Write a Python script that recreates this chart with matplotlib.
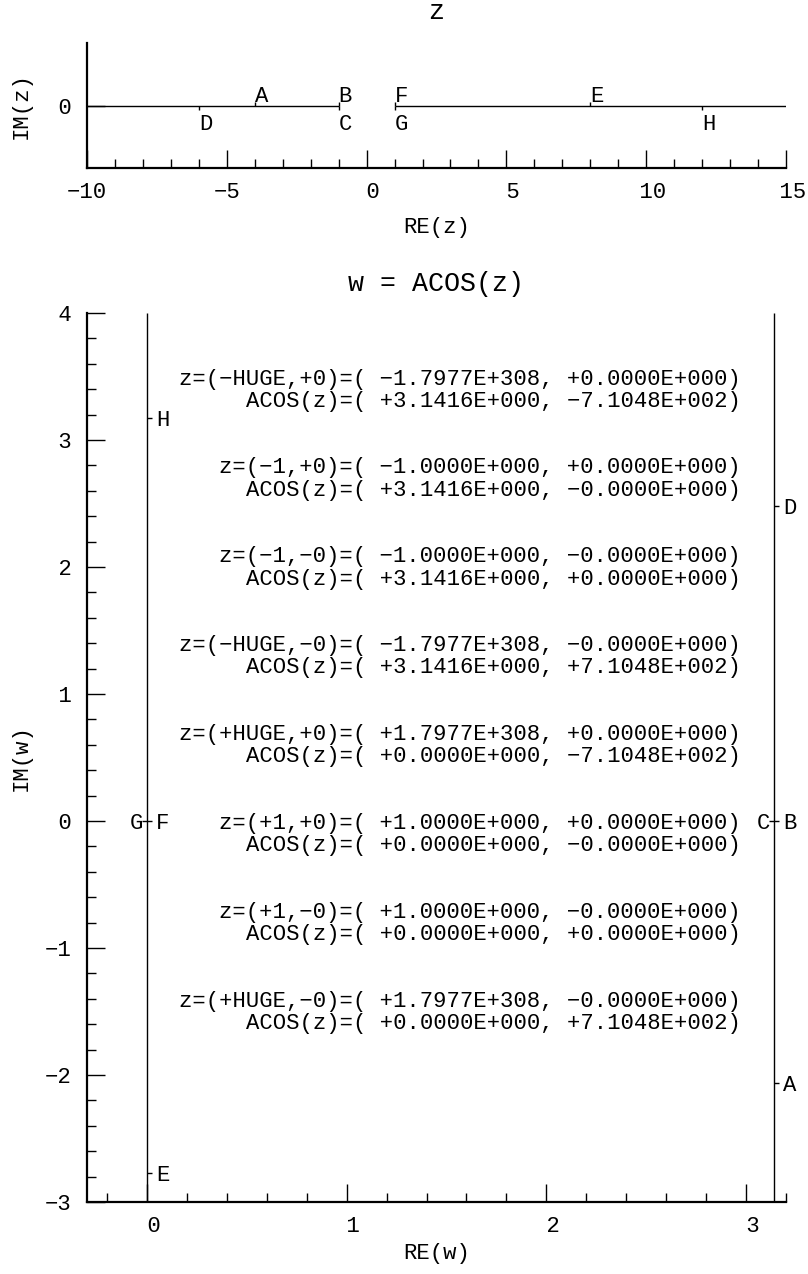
import matplotlib
matplotlib.use('Agg')
import matplotlib.pyplot as plt
from matplotlib.ticker import MultipleLocator, FuncFormatter, NullLocator
from matplotlib.transforms import offset_copy

plt.rcParams['font.family'] = ['Liberation Mono', 'DejaVu Sans Mono']
plt.rcParams['font.size'] = 16
plt.rcParams['axes.unicode_minus'] = True

# points in the z plane (sign of the zero imaginary part decides above/below)
z_labels = ['A', 'B', 'C', 'D', 'E', 'F', 'G', 'H']
z_re = [-4, -1, -1, -6, 8, 1, 1, 12]
z_zero_sign = ['+', '+', '-', '-', '+', '+', '-', '-']

# branch line pieces drawn in the z plane
z_seg_start = [-10, 1]
z_seg_end = [-1, 15]

# their images w = ACOS(z)
w_re = [3.1416, 3.1416, 3.1416, 3.1416, 0.0, 0.0, 0.0, 0.0]
w_im = [-2.0634, 0.0, 0.0, 2.4779, -2.7687, 0.0, 0.0, 3.1771]
w_side = ['r', 'r', 'l', 'r', 'r', 'r', 'l', 'r']

# vertical lines in the w plane
w_line_x = [0.0, 3.1416]
w_line_y = [-3, 4]

z_text = [
    'z=(−HUGE,+0)=( −1.7977E+308, +0.0000E+000)',
    'z=(−1,+0)=( −1.0000E+000, +0.0000E+000)',
    'z=(−1,−0)=( −1.0000E+000, −0.0000E+000)',
    'z=(−HUGE,−0)=( −1.7977E+308, −0.0000E+000)',
    'z=(+HUGE,+0)=( +1.7977E+308, +0.0000E+000)',
    'z=(+1,+0)=( +1.0000E+000, +0.0000E+000)',
    'z=(+1,−0)=( +1.0000E+000, −0.0000E+000)',
    'z=(+HUGE,−0)=( +1.7977E+308, −0.0000E+000)',
]
acos_text = [
    'ACOS(z)=( +3.1416E+000, −7.1048E+002)',
    'ACOS(z)=( +3.1416E+000, −0.0000E+000)',
    'ACOS(z)=( +3.1416E+000, +0.0000E+000)',
    'ACOS(z)=( +3.1416E+000, +7.1048E+002)',
    'ACOS(z)=( +0.0000E+000, −7.1048E+002)',
    'ACOS(z)=( +0.0000E+000, −0.0000E+000)',
    'ACOS(z)=( +0.0000E+000, +0.0000E+000)',
    'ACOS(z)=( +0.0000E+000, +7.1048E+002)',
]


def fmt(v, pos):
    if abs(v) < 1e-9:
        v = 0
    s = f'{v:g}'
    return '\u2212' + s[1:] if v < 0 else ' ' + s


def style(ax):
    for s in ['top', 'right']:
        ax.spines[s].set_visible(False)
    for s in ['left', 'bottom']:
        ax.spines[s].set_linewidth(1.6)
    ax.tick_params(which='both', direction='in', width=1.0, color='black')
    ax.tick_params(which='major', length=13)
    ax.tick_params(which='minor', length=6.5)
    ax.tick_params(axis='x', which='major', pad=10)
    ax.tick_params(axis='y', which='major', pad=11)
    ax.xaxis.set_major_formatter(FuncFormatter(fmt))
    ax.yaxis.set_major_formatter(FuncFormatter(fmt))


fig = plt.figure(figsize=(8.08, 12.74), dpi=100)

# ---- z plane
ax1 = fig.add_axes([87 / 808, 1 - 168 / 1274, 699 / 808, 125 / 1274])
style(ax1)
for a, b in zip(z_seg_start, z_seg_end):
    ax1.plot([a, b], [0, 0], color='black', lw=1.0, solid_capstyle='butt')
for lab, x, sg in zip(z_labels, z_re, z_zero_sign):
    up = sg == '+'
    ax1.plot([x], [0], marker=2 if up else 3, ms=3, mew=1.0, color='black')
    tr = offset_copy(ax1.transData, fig=fig, x=0, y=3 if up else -25, units='dots')
    ax1.text(x, 0, lab, transform=tr, ha='left', va='baseline')
ax1.set_xlim(-10, 15)
ax1.set_ylim(-1, 1)
ax1.xaxis.set_major_locator(MultipleLocator(5))
ax1.xaxis.set_minor_locator(MultipleLocator(1))
ax1.set_yticks([0])
ax1.yaxis.set_minor_locator(NullLocator())
ax1.set_title('z', pad=17)
ax1.set_xlabel('RE(z)', va='center')
ax1.xaxis.set_label_coords(0.5, (168 - 227) / 125)
ax1.set_ylabel('IM(z)', va='center')
ax1.yaxis.set_label_coords((21 - 87) / 699, 0.5)

# ---- w plane
ax2 = fig.add_axes([87 / 808, 1 - 1202 / 1274, 699 / 808, 889 / 1274])
style(ax2)
for x in w_line_x:
    ax2.plot([x, x], w_line_y, color='black', lw=1.0, solid_capstyle='butt')
for lab, x, y, sd in zip(z_labels, w_re, w_im, w_side):
    right = sd == 'r'
    ax2.plot([x], [y], marker=1 if right else 0, ms=3.5, mew=1.0, color='black')
    tr = offset_copy(ax2.transData, fig=fig, x=9 if right else -4, y=0, units='dots')
    ax2.text(x, y, lab, transform=tr, ha='left' if right else 'right',
             va='center_baseline')

text_x = 2.973
for i, (t1, t2) in enumerate(zip(z_text, acos_text)):
    y = 3.5 - 0.7 * i
    ax2.text(text_x, y, t1, ha='right', va='center_baseline')
    ax2.text(text_x, y - 0.175, t2, ha='right', va='center_baseline')

ax2.set_xlim(-0.3, 3.2)
ax2.set_ylim(-3, 4)
ax2.xaxis.set_major_locator(MultipleLocator(1))
ax2.xaxis.set_minor_locator(MultipleLocator(0.2))
ax2.yaxis.set_major_locator(MultipleLocator(1))
ax2.yaxis.set_minor_locator(MultipleLocator(0.2))
ax2.set_title('w = ACOS(z)', pad=16)
ax2.set_xlabel('RE(w)', va='center')
ax2.xaxis.set_label_coords(0.5, (1202 - 1254) / 889)
ax2.set_ylabel('IM(w)', va='center')
ax2.yaxis.set_label_coords((21 - 87) / 699, 0.5)

fig.savefig('out.png', dpi=100)
